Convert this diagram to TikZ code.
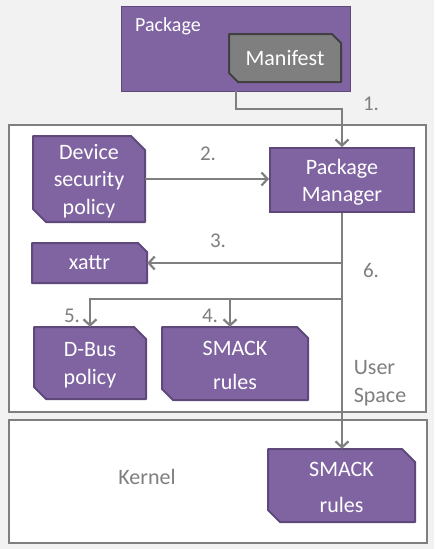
\documentclass[tikz,border=0pt]{standalone}
\usepackage{fontspec}
\setmainfont{Carlito}
\usetikzlibrary{arrows.meta,calc}
\definecolor{bg}{HTML}{F2F2F2}
\definecolor{purp}{HTML}{8064A2}
\definecolor{purpd}{HTML}{5F497A}
\definecolor{boxgray}{HTML}{7F7F7F}
\definecolor{lngray}{HTML}{7F7F7F}
\definecolor{lbgray}{HTML}{7F7F7F}
\definecolor{manfill}{HTML}{7F7F7F}
\definecolor{mandraw}{HTML}{404040}
\newcommand\bodyfont{\fontsize{22}{27.5}\selectfont}
\newcommand\numfont{\fontsize{21}{25}\selectfont}
\newcommand\mysnipshift{-2pt}
\newcommand\snipnode[9]{%
  \path[#8] ({#2},{#3}) -- ({#4-#6},{#3}) -- ({#4},{#3+#6}) -- ({#4},{#5}) -- ({#2+#7},{#5}) -- ({#2},{#5-#7}) -- cycle;
  \node[inner sep=0pt, minimum width={#4-#2}, minimum height={#5-#3}] (#1) at ({(#2+#4)/2},{(#3+#5)/2}) {};
  \node[sniptext] (#1-t) at ([yshift=\mysnipshift]#1.center) {#9};
}
\tikzset{
  area/.style={draw=boxgray, line width=2pt, fill=white, anchor=north west, inner sep=0pt},
  conn/.style={draw=lngray, line width=2.2pt},
  arr/.style={conn, -{Straight Barb[length=6pt,width=13pt]}},
  lbl/.style={text=lbgray, font=\numfont, inner sep=0pt},
  purpshape/.style={fill=purp, draw=purpd, line width=2pt, line join=round},
  manshape/.style={fill=manfill, draw=mandraw, line width=2pt, line join=round},
  sniptext/.style={text=white, align=center, inner sep=0pt, font=\bodyfont},
}
\begin{document}
\begin{tikzpicture}[x=1pt,y=-1pt]
\fill[bg] (0,0) rectangle (434,549);
\useasboundingbox (0,0) rectangle (434,549);

% regions
\node[area, minimum width=417pt, minimum height=287pt] (user) at (8,124) {};
\node[area, minimum width=418pt, minimum height=123pt] (kern) at (8,419) {};
\node[text=lbgray, font=\bodyfont, align=left, inner sep=0pt] (userlbl) at (380,383) {User\\Space};
\node[text=lbgray, font=\bodyfont, inner sep=0pt] (kernlbl) at (147,477) {Kernel};

% package
\node[fill=purp, draw=purpd, line width=1.2pt, minimum width=229pt, minimum height=85pt, anchor=north west, inner sep=0pt] (pkg) at (121,6) {};
\node[text=white, font=\fontsize{20}{24}\selectfont, anchor=base west, inner sep=0pt] (pkglbl) at (135,31) {Package};
\renewcommand\mysnipshift{0pt}
\snipnode{mani}{229}{34}{341}{82}{9}{9}{manshape}{Manifest}
\snipnode{xattr}{32}{243}{147}{283}{9}{0}{purpshape}{xattr}

% nodes
\renewcommand\mysnipshift{-2pt}
\snipnode{dsp}{33}{136}{145}{222}{14}{13}{purpshape}{Device\\security\\policy}
\node[fill=purp, draw=purpd, line width=2pt, minimum width=144pt, minimum height=64pt, anchor=north west, inner sep=0pt] (pm) at (269,147) {};
\node[sniptext] (pm-t) at ([yshift=-2pt]pm.center) {Package\\Manager};
\snipnode{dbus}{34}{327}{146}{399}{12}{12}{purpshape}{D-Bus\\policy}
\snipnode{usm}{162}{327}{308}{400}{11}{11}{purpshape}{SMACK\\[7pt]rules}
\snipnode{ksm}{268}{449}{415}{522}{13}{12}{purpshape}{SMACK\\[8pt]rules}

% connectors
\coordinate (c1s) at (236,91);
\draw[arr] (c1s) |- ($(pm.north)+(0,-38)$) -- (pm.north);
\draw[arr] (dsp.east) -- (pm.west |- dsp.east);
\draw[arr] (pm.south) -- (pm.south |- ksm.north);
\draw[arr] (xattr.east -| pm.south) -- (xattr.east);
\coordinate (j) at ($(pm.south)+(0,86)$);
\draw[arr] (j) -| (dbus.north);
\draw[arr] ([xshift=-5pt]usm.north |- j) -- ([xshift=-5pt]usm.north);

% step labels
\node[lbl] (l1) at (371,104) {1.};
\node[lbl] (l2) at (208,154) {2.};
\node[lbl] (l3) at (218,241) {3.};
\node[lbl] (l4) at (210,316) {4.};
\node[lbl] (l5) at (72,316) {5.};
\node[lbl] (l6) at (371,270) {6.};
\end{tikzpicture}
\end{document}
